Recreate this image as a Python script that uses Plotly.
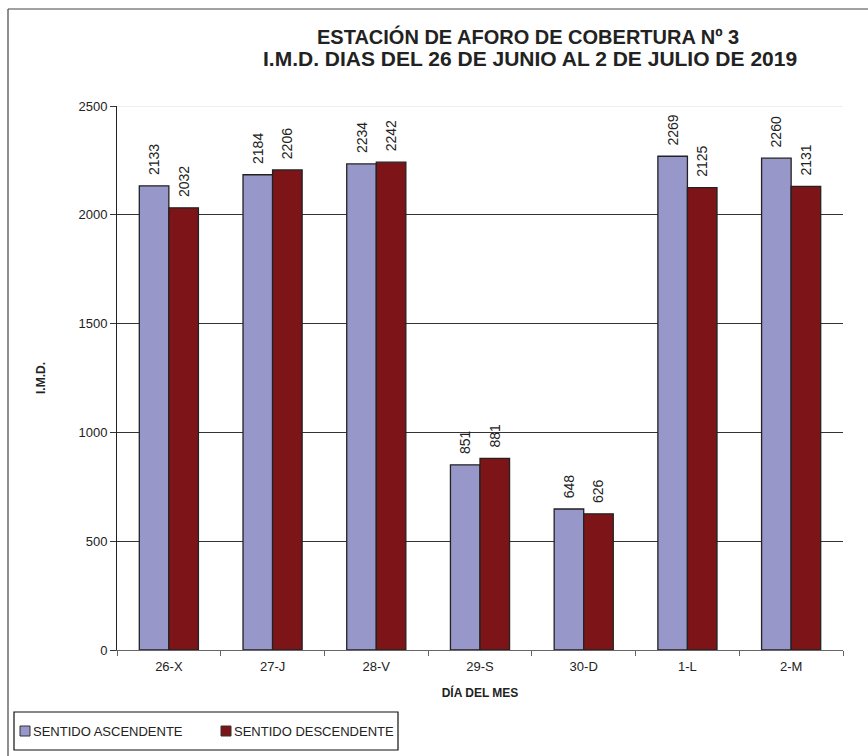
import plotly.graph_objects as go

categories = ["26-X", "27-J", "28-V", "29-S", "30-D", "1-L", "2-M"]
ascendente = [2133, 2184, 2234, 851, 648, 2269, 2260]
descendente = [2032, 2206, 2242, 881, 626, 2125, 2131]
series_names = ["SENTIDO ASCENDENTE", "SENTIDO DESCENDENTE"]
y_ticks = [0, 500, 1000, 1500, 2000, 2500]

COLOR_ASC = "#9797C9"
COLOR_DESC = "#7D1418"
FONT = "Liberation Sans, Arial, sans-serif"
W, H = 868, 756
L, R, T, B = 117, 25, 106, 106
pw, ph = W - L - R, H - T - B

def px_x(x):
    return (x - L) / pw

def px_y(y):
    return (H - B - y) / ph

label_tpl = "\u00a0\u00a0%{y}"

fig = go.Figure()
for name, vals, col in [(series_names[0], ascendente, COLOR_ASC),
                        (series_names[1], descendente, COLOR_DESC)]:
    fig.add_trace(go.Bar(
        x=categories, y=vals, name=name,
        marker=dict(color=col, line=dict(color="#222222", width=1.3)),
        texttemplate=label_tpl, textposition="outside", textangle=-90,
        constraintext="none",
        textfont=dict(family=FONT, size=14, color="#222"), cliponaxis=False,
        showlegend=False,
    ))

legend_items = [(series_names[0], COLOR_ASC, 20), (series_names[1], COLOR_DESC, 221)]
shapes = [
    dict(type="line", xref="paper", yref="y", x0=0, x1=1, y0=2500, y1=2500,
         line=dict(color="#DDDDDD", width=1), layer="above"),
    dict(type="line", xref="paper", yref="paper", x0=px_x(8), x1=px_x(870), y0=px_y(9), y1=px_y(9),
         line=dict(color="#444", width=1.2)),
    dict(type="line", xref="paper", yref="paper", x0=px_x(8), x1=px_x(8), y0=px_y(9), y1=px_y(760),
         line=dict(color="#444", width=1.2)),
    dict(type="rect", xref="paper", yref="paper", layer="above",
         x0=px_x(14), x1=px_x(398), y0=px_y(712), y1=px_y(750),
         line=dict(color="#111", width=1.2), fillcolor="rgba(0,0,0,0)"),
]

annotations = [
    dict(text="<b>ESTACIÓN DE AFORO DE COBERTURA Nº 3</b>",
         xref="paper", yref="paper", x=px_x(528), y=px_y(37), xanchor="center", yanchor="middle",
         showarrow=False, font=dict(family=FONT, size=20, color="#222")),
    dict(text="<b>I.M.D. DIAS DEL 26 DE JUNIO AL 2 DE JULIO DE 2019</b>",
         xref="paper", yref="paper", x=px_x(530), y=px_y(59), xanchor="center", yanchor="middle",
         showarrow=False, font=dict(family=FONT, size=21, color="#222")),
]
for text, col, sx in legend_items:
    shapes.append(dict(type="rect", xref="paper", yref="paper",
                       x0=px_x(sx), x1=px_x(sx + 10), y0=px_y(726), y1=px_y(736),
                       fillcolor=col, line=dict(color="#333", width=1)))
    annotations.append(dict(text=text, xref="paper", yref="paper",
                            x=px_x(sx + 11), y=px_y(731.5), xanchor="left", yanchor="middle",
                            showarrow=False, font=dict(family=FONT, size=13, color="#222")))

fig.update_layout(
    width=W, height=H,
    margin=dict(l=L, r=R, t=T, b=B, autoexpand=False),
    paper_bgcolor="white", plot_bgcolor="white",
    barmode="group", bargap=0.43, bargroupgap=0,
    font=dict(family=FONT, color="#222"),
    showlegend=False,
    xaxis=dict(
        showline=True, linecolor="#666", linewidth=1,
        ticks="outside", ticklen=5, tickcolor="#666", tickson="boundaries",
        ticklabelstandoff=4,
        tickfont=dict(family=FONT, size=13, color="#222"),
        title=dict(text="<b>DÍA DEL MES</b>", font=dict(family=FONT, size=12, color="#222"), standoff=16),
    ),
    yaxis=dict(
        range=[0, 2500], tickvals=y_ticks,
        showline=True, linecolor="#222", linewidth=1,
        ticks="outside", ticklen=6, tickcolor="#333",
        ticklabelstandoff=0,
        showgrid=True, gridcolor="#333", gridwidth=1,
        tickfont=dict(family=FONT, size=13, color="#222"),
        title=dict(text="<b>I.M.D.</b>", font=dict(family=FONT, size=12, color="#222"), standoff=30),
        zeroline=False,
    ),
    annotations=annotations,
    shapes=shapes,
)

fig.write_html("out.html", config={"displayModeBar": False},
               post_script="document.body.style.margin='0';")
